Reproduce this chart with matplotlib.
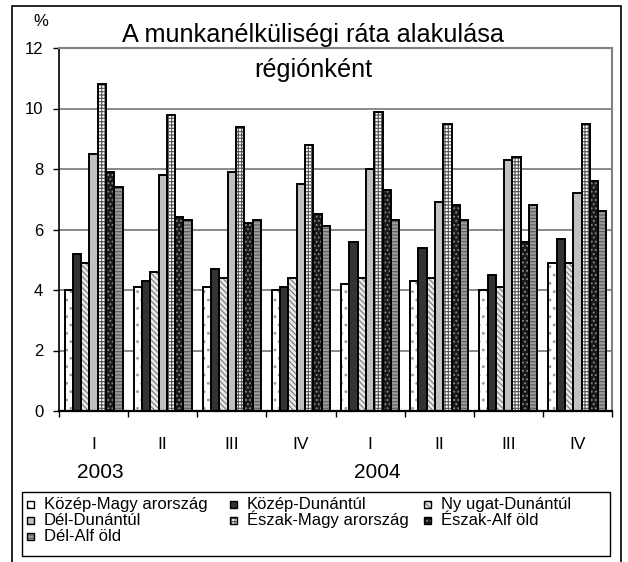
import matplotlib
matplotlib.use("Agg")
import matplotlib.pyplot as plt
from matplotlib.patches import Rectangle
import numpy as np

plt.rcParams['font.family'] = ['Liberation Sans', 'DejaVu Sans']
plt.rcParams['hatch.linewidth'] = 0.8

quarters = ["I", "II", "III", "IV", "I", "II", "III", "IV"]
years = ["2003", "2004"]
series_names = ["Közép-Magy arország", "Közép-Dunántúl", "Ny ugat-Dunántúl",
                "Dél-Dunántúl", "Észak-Magy arország", "Észak-Alf öld", "Dél-Alf öld"]
kozep_magyarorszag = [4.0, 4.1, 4.1, 4.0, 4.2, 4.3, 4.0, 4.9]
kozep_dunantul = [5.2, 4.3, 4.7, 4.1, 5.6, 5.4, 4.5, 5.7]
nyugat_dunantul = [4.9, 4.6, 4.4, 4.4, 4.4, 4.4, 4.1, 4.9]
del_dunantul = [8.5, 7.8, 7.9, 7.5, 8.0, 6.9, 8.3, 7.2]
eszak_magyarorszag = [10.8, 9.8, 9.4, 8.8, 9.9, 9.5, 8.4, 9.5]
eszak_alfold = [7.9, 6.4, 6.2, 6.5, 7.3, 6.8, 5.6, 7.6]
del_alfold = [7.4, 6.3, 6.3, 6.1, 6.3, 6.3, 6.8, 6.6]
series = [kozep_magyarorszag, kozep_dunantul, nyugat_dunantul, del_dunantul,
          eszak_magyarorszag, eszak_alfold, del_alfold]

# (facecolor, hatch, hatchcolor)
styles = [
    ("white", "..", "#9a9a9a"),
    ("#333333", None, None),
    ("#e8e8e8", "\\\\\\\\\\\\", "#777777"),
    ("#c0c0c0", None, None),
    ("white", "+++++", "#555555"),
    ("#1a1a1a", "....", "#8a8a8a"),
    ("#9c9c9c", "-----", "#5a5a5a"),
]

W, H = 628, 562
fig = plt.figure(figsize=(W / 100, H / 100), dpi=100)
ax = fig.add_axes([59 / W, 1 - 411 / H, (612 - 59) / W, (411 - 48) / H])

x = np.arange(len(quarters))
bw = 0.12
for j, vals in enumerate(series):
    fc, hatch, hc = styles[j]
    pos = x + (j - 3) * bw
    if hatch:
        ax.bar(pos, vals, bw, facecolor=fc, hatch=hatch, edgecolor=hc,
               linewidth=0, zorder=2)
    else:
        ax.bar(pos, vals, bw, facecolor=fc, linewidth=0, zorder=2)
    ax.bar(pos, vals, bw, fill=False, edgecolor="black", linewidth=1.4, zorder=3,
           label=series_names[j])

ax.set_xlim(-0.5, 7.5)
ax.set_ylim(0, 12)
ax.set_yticks(range(0, 13, 2))
ax.tick_params(axis='y', labelsize=12, length=4.3, width=1, pad=7, direction='out')
ax.set_xticks(x)
ax.set_xticklabels(quarters)
ax.tick_params(axis='x', which='major', length=0, labelsize=12.5, pad=19)
ax.set_xticks(np.arange(-0.5, 8, 1), minor=True)
ax.tick_params(axis='x', which='minor', length=4.3, width=1, direction='out')
ax.yaxis.grid(True, color='#808080', linewidth=1.3, zorder=0)
ax.set_axisbelow(True)
for s in ['top', 'right']:
    ax.spines[s].set_color('#808080')
    ax.spines[s].set_linewidth(1.5)
ax.spines['left'].set_linewidth(1.2)
ax.spines['bottom'].set_linewidth(1.6)

fig.text(313 / W, 1 - 42 / H, "A munkanélküliségi ráta alakulása",
         ha='center', va='baseline', fontsize=18.2)
fig.text(313 / W, 1 - 77 / H, "régiónként",
         ha='center', va='baseline', fontsize=18.2)
fig.text(41 / W, 1 - 22 / H, "%", ha='center', va='center', fontsize=12)
fig.text(100 / W, 1 - 473 / H, years[0], ha='center', va='center', fontsize=15)
fig.text(377 / W, 1 - 473 / H, years[1], ha='center', va='center', fontsize=15)

# outer border
fig.add_artist(Rectangle((12 / W, -0.05), (621 - 12) / W, 1.05 - 6 / H,
                         transform=fig.transFigure, fill=False,
                         edgecolor='black', linewidth=1.2))
# legend box
fig.add_artist(Rectangle((22 / W, 1 - 556 / H), (610 - 22) / W, (556 - 492) / H,
                         transform=fig.transFigure, fill=False,
                         edgecolor='black', linewidth=1.0))

# manual legend, row-wise 3 columns
col_x = [27, 230, 424]
row_base = [509, 525, 541]
sq = 7
for j in range(len(series)):
    r, c = divmod(j, 3)
    fc, hatch, hc = styles[j]
    x0 = col_x[c]
    yc = row_base[r] - 5
    if hatch:
        fig.add_artist(Rectangle((x0 / W, 1 - (yc + sq / 2) / H), sq / W, sq / H,
                                 transform=fig.transFigure, facecolor=fc,
                                 hatch=hatch, edgecolor=hc, linewidth=0))
    else:
        fig.add_artist(Rectangle((x0 / W, 1 - (yc + sq / 2) / H), sq / W, sq / H,
                                 transform=fig.transFigure, facecolor=fc,
                                 linewidth=0))
    fig.add_artist(Rectangle((x0 / W, 1 - (yc + sq / 2) / H), sq / W, sq / H,
                             transform=fig.transFigure, fill=False,
                             edgecolor='black', linewidth=1.0))
    fig.text((x0 + 17) / W, 1 - row_base[r] / H, series_names[j],
             ha='left', va='baseline', fontsize=12)

fig.savefig("out.png", dpi=100)
